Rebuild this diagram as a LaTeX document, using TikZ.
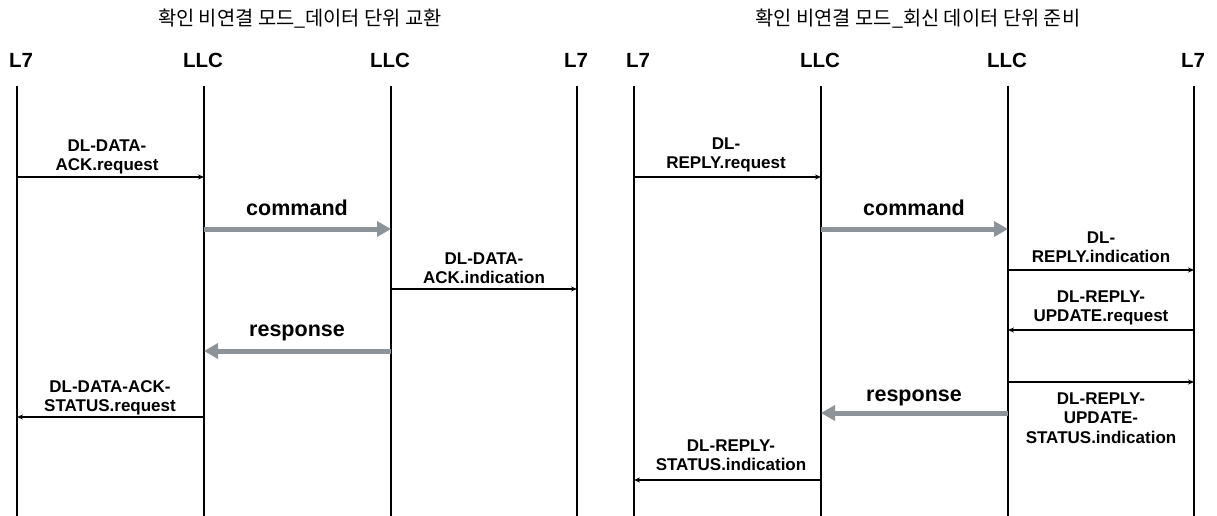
\documentclass[tikz,border=0pt]{standalone}
\usepackage{fontspec}
\setmainfont{Liberation Sans}
\newfontfamily\kofont{Noto Sans CJK KR}
\usetikzlibrary{arrows.meta}
\definecolor{cmdgray}{HTML}{8C9399}
\tikzset{
  x=1pt, y=-1pt,
  lifeline/.style={line width=1.8pt, black},
  head/.style={font=\fontsize{20.5}{23}\selectfont\bfseries, inner sep=0pt, anchor=center},
  title/.style={font=\kofont\fontsize{19.8}{22}\selectfont, inner sep=0pt},
  msg/.style={line width=1.3pt, -{Stealth[length=6pt,width=5pt]}},
  big/.style={line width=5pt, cmdgray, -{Triangle[length=14pt,width=15pt]}},
  lbl/.style={font=\fontsize{17}{19.5}\selectfont\bfseries, align=center, inner sep=0pt},
  biglbl/.style={font=\fontsize{21.5}{24}\selectfont\bfseries, inner sep=0pt},
}
\begin{document}
\begin{tikzpicture}
\useasboundingbox (0,0) rectangle (1217,516);
% titles
\node[title] (t1) at (300,19) {확인 비연결 모드\_데이터 단위 교환};
\node[title] (t2) at (918,19) {확인 비연결 모드\_회신 데이터 단위 준비};
% headers
\node[head] (h1) at (21,60) {L7};
\node[head] (h2) at (203,60) {LLC};
\node[head] (h3) at (390,60) {LLC};
\node[head] (h4) at (576,60) {L7};
\node[head] (h5) at (638,60) {L7};
\node[head] (h6) at (820,60) {LLC};
\node[head] (h7) at (1007,60) {LLC};
\node[head] (h8) at (1193,60) {L7};
% lifeline tops and bottoms
\foreach \n/\x in {1/17,2/204,3/391,4/577,5/634,6/821,7/1008,8/1194}{
  \coordinate (a\n) at (\x,86);
  \coordinate (b\n) at (\x,516);
  \draw[lifeline] (a\n) -- (b\n);
}
% ---------- left diagram ----------
\draw[msg] (a1 |- 0,177) -- (a2 |- 0,177);
\node[lbl] (m1) at (107,157) {DL-DATA-\\ACK.request};
\draw[big] (a2 |- 0,229) -- (a3 |- 0,229);
\node[biglbl] (c1) at (297,208) {command};
\draw[msg] (a3 |- 0,289) -- (a4 |- 0,289);
\node[lbl] (m2) at (484,268) {DL-DATA-\\ACK.indication};
\draw[big] (a3 |- 0,351) -- (a2 |- 0,351);
\node[biglbl] (r1) at (297,333) {response};
\draw[msg] (a2 |- 0,417) -- (a1 |- 0,417);
\node[lbl] (m3) at (110,398) {DL-DATA-ACK-\\STATUS.request};
% ---------- right diagram ----------
\draw[msg] (a5 |- 0,177) -- (a6 |- 0,177);
\node[lbl] (m4) at (726,155) {DL-\\REPLY.request};
\draw[big] (a6 |- 0,229) -- (a7 |- 0,229);
\node[biglbl] (c2) at (914,208) {command};
\draw[msg] (a7 |- 0,270) -- (a8 |- 0,270);
\node[lbl] (m5) at (1101,247) {DL-\\REPLY.indication};
\draw[msg] (a8 |- 0,330) -- (a7 |- 0,330);
\node[lbl] (m6) at (1101,308) {DL-REPLY-\\UPDATE.request};
\draw[msg] (a7 |- 0,382) -- (a8 |- 0,382);
\node[lbl] (m7) at (1101,418) {DL-REPLY-\\UPDATE-\\STATUS.indication};
\draw[big] (a7 |- 0,413) -- (a6 |- 0,413);
\node[biglbl] (r2) at (914,398) {response};
\draw[msg] (a6 |- 0,480) -- (a5 |- 0,480);
\node[lbl] (m8) at (731,455) {DL-REPLY-\\STATUS.indication};
\end{tikzpicture}
\end{document}
